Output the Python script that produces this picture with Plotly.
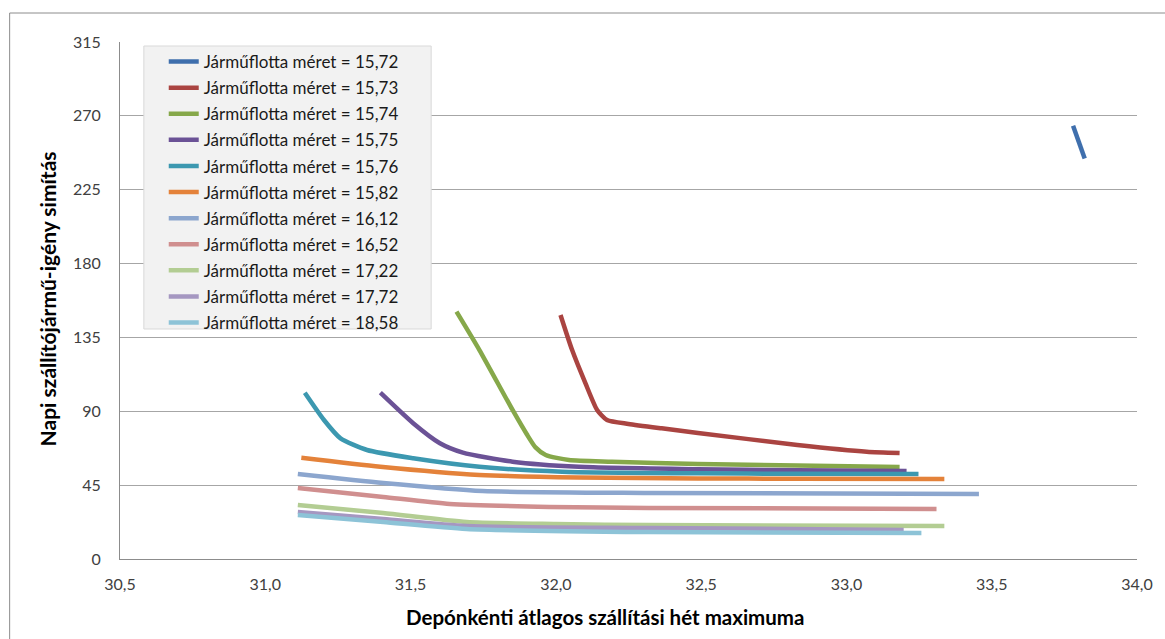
import plotly.graph_objects as go

# ---------------- data ----------------
fleet_sizes = ["15,72", "15,73", "15,74", "15,75", "15,76", "15,82",
               "16,12", "16,52", "17,22", "17,72", "18,58"]

x_1572 = [33.78, 33.82]
y_1572 = [264, 244]

x_1573 = [32.016, 32.056, 32.102, 32.142, 32.176, 32.250, 32.364, 32.489, 32.831, 33.070, 33.183]
y_1573 = [148.7, 127.3, 107.0, 90.8, 84.7, 82.3, 79.6, 76.8, 69.5, 65.4, 64.6]

x_1574 = [31.658, 31.737, 31.851, 31.900, 31.930, 31.965, 32.045, 32.193, 32.489, 32.831, 33.183]
y_1574 = [150.7, 127.3, 90.8, 76.0, 68.0, 63.4, 60.3, 59.3, 57.9, 56.9, 56.1]

x_1575 = [31.396, 31.509, 31.601, 31.680, 31.851, 32.079, 32.489, 32.831, 33.207]
y_1575 = [101.3, 82.7, 70.5, 64.8, 59.3, 56.2, 54.7, 54.1, 53.6]

x_1576 = [31.136, 31.202, 31.259, 31.350, 31.509, 31.737, 32.022, 32.489, 32.831, 33.248]
y_1576 = [101.3, 84.7, 73.5, 66.4, 61.4, 56.2, 53.2, 52.2, 51.9, 51.8]

x_1582 = [31.124, 31.396, 31.737, 32.079, 32.489, 32.831, 33.337]
y_1582 = [61.7, 56.2, 51.2, 49.6, 49.1, 48.9, 48.7]

x_1612 = [31.112, 31.406, 31.748, 32.318, 33.456]
y_1612 = [51.8, 46.3, 41.4, 40.2, 39.6]

x_1652 = [31.112, 31.406, 31.635, 31.977, 32.318, 33.310]
y_1652 = [43.3, 37.8, 33.5, 31.7, 31.1, 30.5]

x_1722 = [31.112, 31.406, 31.693, 32.000, 32.318, 33.337]
y_1722 = [32.9, 28.0, 22.5, 21.3, 20.7, 20.1]

x_1772 = [31.112, 31.406, 31.693, 32.318, 33.197]
y_1772 = [28.6, 24.4, 20.1, 18.9, 17.7]

x_1858 = [31.112, 31.406, 31.693, 32.318, 33.258]
y_1858 = [26.8, 22.5, 18.3, 16.4, 15.8]

x_ticks = [30.5, 31.0, 31.5, 32.0, 32.5, 33.0, 33.5, 34.0]
y_ticks = [0, 45, 90, 135, 180, 225, 270, 315]

series_x = [x_1572, x_1573, x_1574, x_1575, x_1576, x_1582,
            x_1612, x_1652, x_1722, x_1772, x_1858]
series_y = [y_1572, y_1573, y_1574, y_1575, y_1576, y_1582,
            y_1612, y_1652, y_1722, y_1772, y_1858]

colors = ["#3F6FAD", "#AA4441", "#86A84A", "#6B5296", "#3C98B0", "#E4823A",
          "#8CA6CE", "#D08F8F", "#B3CD93", "#A597C1", "#8DC3D7"]

FONT = "Lato"

fig = go.Figure()
for i, (xs, ys) in enumerate(zip(series_x, series_y)):
    fig.add_trace(go.Scatter(
        x=xs, y=ys, mode="lines",
        name="Járműflotta méret = " + fleet_sizes[i],
        legendgroup=f"g{i}",
        line=dict(color=colors[i], width=4.5, shape="spline", smoothing=0.6),
    ))

L, R, T, B = 120, 22, 42, 80
W, H = 1165, 639
pw, ph = W - L - R, H - T - B


def px_x(p):
    return (p - L) / pw


def px_y(p):
    return 1 - (p - T) / ph


fig.update_layout(
    width=W, height=H,
    margin=dict(l=L, r=R, t=T, b=B),
    paper_bgcolor="white", plot_bgcolor="white",
    separators=",.",
    font=dict(family=FONT, size=16, color="#404040"),
    showlegend=True,
    legend=dict(
        x=px_x(164), y=px_y(44), xanchor="left", yanchor="top",
        bgcolor="rgba(0,0,0,0)", borderwidth=0,
        font=dict(family=FONT, size=17, color="#1a1a1a"),
        tracegroupgap=1, itemwidth=30,
    ),
    xaxis=dict(
        range=[30.5, 34.0], tickvals=x_ticks, tickformat=".1f",
        showgrid=False, zeroline=False,
        showline=True, linecolor="#8C8C8C", linewidth=1,
        ticks="", ticklabelstandoff=11,
        tickfont=dict(family=FONT, size=16, color="#404040"),
    ),
    yaxis=dict(
        range=[0, 315], tickvals=y_ticks,
        showgrid=True, gridcolor="#A6A6A6", gridwidth=1,
        zeroline=False,
        showline=True, linecolor="#8C8C8C", linewidth=1,
        ticks="", ticklabelstandoff=15,
        tickfont=dict(family=FONT, size=16, color="#404040"),
    ),
    annotations=[
        dict(text="<b>Depónkénti átlagos szállítási hét maximuma</b>",
             xref="paper", yref="paper", x=px_x(608), y=px_y(617),
             xanchor="center", yanchor="middle", showarrow=False,
             font=dict(family=FONT, size=20.5, color="#000000")),
        dict(text="<b>Napi szállítójármű-igény simítás</b>",
             xref="paper", yref="paper", x=px_x(47), y=px_y(299),
             xanchor="center", yanchor="middle", showarrow=False, textangle=-90,
             font=dict(family=FONT, size=21, color="#000000")),
    ],
    shapes=[
        dict(type="rect", xref="paper", yref="paper",
             x0=px_x(9), x1=px_x(W + 20),
             y0=px_y(H + 20), y1=px_y(13),
             line=dict(color="#8C8C8C", width=1), fillcolor="rgba(0,0,0,0)",
             layer="below"),
        dict(type="rect", xref="paper", yref="paper",
             x0=px_x(144), x1=px_x(433), y0=px_y(329), y1=px_y(46),
             line=dict(color="#D9D9D9", width=1), fillcolor="#F2F2F2",
             layer="above"),
    ],
)

fig.write_html("out.html")
